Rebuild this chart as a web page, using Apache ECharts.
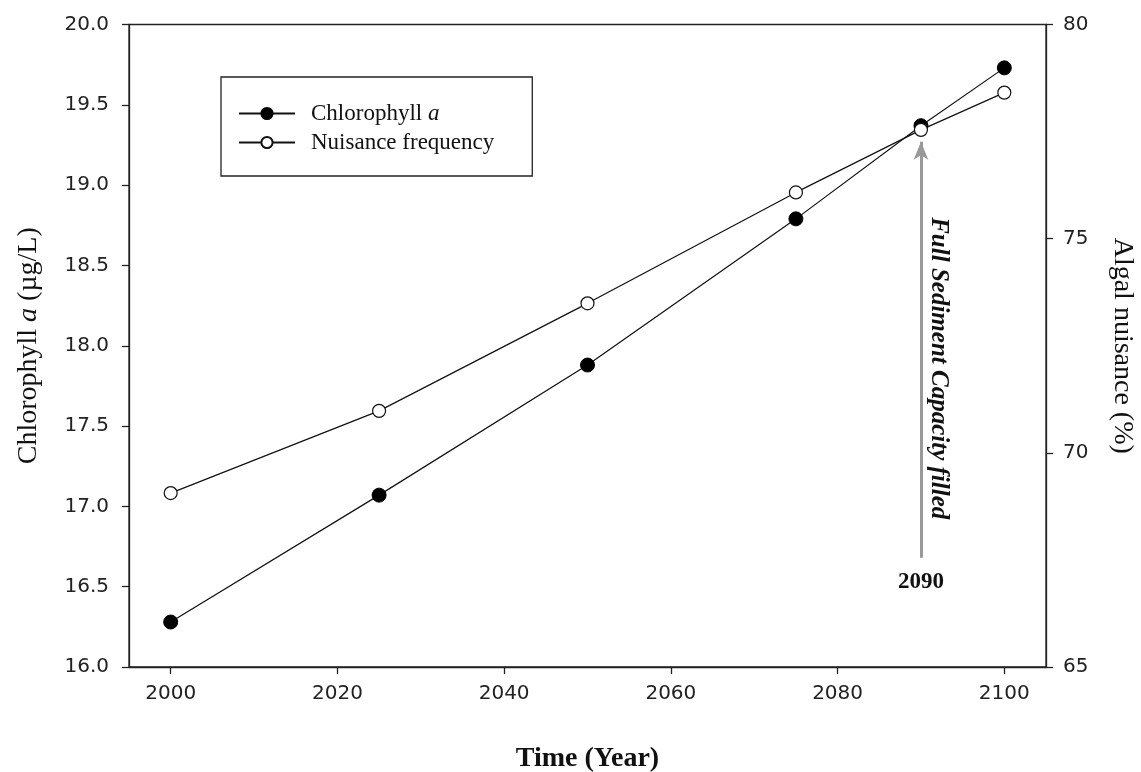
<!DOCTYPE html>
<html>
<head>
<meta charset="utf-8">
<script src="https://cdn.jsdelivr.net/npm/echarts@6/dist/echarts.min.js"></script>
<style>
  html, body { margin: 0; padding: 0; background: #fff; }
  #chart { width: 1141px; height: 772px; }
</style>
</head>
<body>
<div id="chart"></div>
<script>
// Projected lake response, 2000-2100
const years = [2000, 2025, 2050, 2075, 2090, 2100];
const chlorophyll = [16.28, 17.07, 17.88, 18.79, 19.37, 19.73];   // µg/L
const nuisance = [69.06, 70.98, 73.49, 76.08, 77.54, 78.41];      // %
const xTicks = [2000, 2020, 2040, 2060, 2080, 2100];

// Sediment capacity marker
const fullYear = 2090;
const arrowFrom = 16.68;
const arrowTo = 19.27;
const yearLabelAt = 16.53;
const noteAt = 17.86;

const serif = '"Liberation Serif", "Times New Roman", serif';
const sans = '"DejaVu Sans", Verdana, sans-serif';

const chart = echarts.init(document.getElementById('chart'));

const axisLine = { show: true, lineStyle: { color: '#222', width: 1.3 } };
const axisTick = { show: true, inside: false, length: 7, lineStyle: { color: '#222', width: 1.3 } };
const tickLabel = { color: '#222', fontFamily: sans, fontSize: 20 };

chart.setOption({
  animation: false,
  backgroundColor: '#fff',
  grid: {
    left: 129, right: 95, top: 24.5, bottom: 105,
    outerBoundsMode: 'none', containLabel: false,
    show: true, borderColor: '#222', borderWidth: 1.3
  },
  legend: {
    orient: 'vertical',
    left: 221, top: 77,
    padding: [25, 38, 22, 17],
    itemGap: 6,
    itemWidth: 56, itemHeight: 14,
    borderColor: '#222', borderWidth: 1.3,
    data: ['Chlorophyll a', 'Nuisance frequency'],
    formatter: function (name) {
      return name === 'Chlorophyll a' ? '{t|Chlorophyll }{i|a}' : '{t|Nuisance frequency}';
    },
    textStyle: {
      padding: [0, 0, 0, 11],
      rich: {
        t: { fontFamily: serif, fontSize: 23, color: '#111', lineHeight: 23 },
        i: { fontFamily: serif, fontSize: 23, fontStyle: 'italic', color: '#111', lineHeight: 23 }
      }
    }
  },
  xAxis: {
    type: 'value',
    min: 1995, max: 2105,
    name: 'Time (Year)',
    nameLocation: 'middle',
    nameGap: 78,
    nameTextStyle: { fontFamily: serif, fontSize: 28, fontWeight: 'bold', color: '#111' },
    axisLine: axisLine,
    axisTick: Object.assign({ customValues: xTicks }, axisTick),
    axisLabel: Object.assign({ customValues: xTicks, margin: 17, formatter: v => String(v) }, tickLabel),
    splitLine: { show: false }
  },
  yAxis: [
    {
      type: 'value',
      min: 16, max: 20, interval: 0.5,
      position: 'left',
      name: '{t|Chlorophyll }{i|a}{t| (µg/L)}',
      nameLocation: 'middle',
      nameGap: 86,
      nameTextStyle: {
        rich: {
          t: { fontFamily: serif, fontSize: 28, color: '#111' },
          i: { fontFamily: serif, fontSize: 28, fontStyle: 'italic', color: '#111' }
        }
      },
      axisLine: axisLine,
      axisTick: axisTick,
      axisLabel: Object.assign({ margin: 20, formatter: v => v.toFixed(1) }, tickLabel),
      splitLine: { show: false }
    },
    {
      type: 'value',
      min: 65, max: 80, interval: 5,
      position: 'right',
      name: 'Algal nuisance (%)',
      nameLocation: 'middle',
      nameRotate: -90,
      nameGap: 62,
      nameTextStyle: { fontFamily: serif, fontSize: 28, color: '#111' },
      axisLine: axisLine,
      axisTick: axisTick,
      axisLabel: Object.assign({ margin: 17 }, tickLabel),
      splitLine: { show: false }
    }
  ],
  series: [
    {
      name: 'Chlorophyll a',
      type: 'line',
      yAxisIndex: 0,
      data: years.map((y, i) => [y, chlorophyll[i]]),
      symbol: 'circle',
      symbolSize: 14,
      itemStyle: { color: '#000', borderColor: '#000', borderWidth: 1 },
      lineStyle: { color: '#111', width: 1.2 },
      z: 3,
      markLine: {
        silent: true,
        symbol: ['none', 'arrow'],
        symbolSize: [11, 18],
        lineStyle: { color: '#999', width: 3, type: 'solid' },
        label: { show: false },
        data: [[{ coord: [fullYear, arrowFrom] }, { coord: [fullYear, arrowTo] }]]
      }
    },
    {
      name: 'Nuisance frequency',
      type: 'line',
      yAxisIndex: 1,
      data: years.map((y, i) => [y, nuisance[i]]),
      symbol: 'circle',
      symbolSize: 13,
      itemStyle: { color: '#fff', borderColor: '#111', borderWidth: 1.2 },
      lineStyle: { color: '#111', width: 1.2 },
      z: 4
    }
  ]
});

// Annotation texts placed beside the arrow
const yearPx = chart.convertToPixel({ xAxisIndex: 0, yAxisIndex: 0 }, [fullYear, yearLabelAt]);
const notePx = chart.convertToPixel({ xAxisIndex: 0, yAxisIndex: 0 }, [fullYear, noteAt]);
chart.setOption({
  graphic: [
    {
      type: 'text',
      x: yearPx[0], y: yearPx[1],
      style: {
        text: String(fullYear),
        fontFamily: serif, fontSize: 23, fontWeight: 'bold', fill: '#111',
        align: 'center', verticalAlign: 'middle'
      }
    },
    {
      type: 'text',
      x: notePx[0] + 17, y: notePx[1],
      rotation: -Math.PI / 2,
      style: {
        text: 'Full Sediment Capacity filled',
        fontFamily: serif, fontSize: 25, fontWeight: 'bold', fontStyle: 'italic', fill: '#111',
        align: 'center', verticalAlign: 'middle'
      }
    }
  ]
});
</script>
</body>
</html>
